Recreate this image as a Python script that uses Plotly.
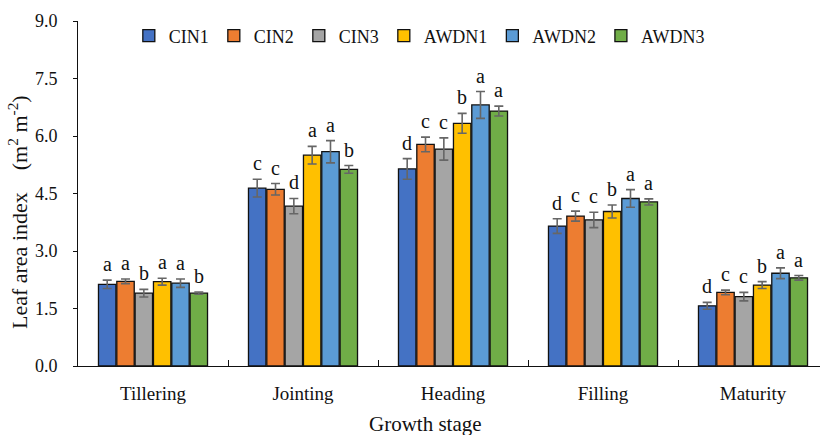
import plotly.graph_objects as go

# Growth stages (categories on the x axis)
stages = ["Tillering", "Jointing", "Heading", "Filling", "Maturity"]

# Leaf area index (m2 m-2) per treatment, with standard errors and significance letters
cin1 = [2.13, 4.64, 5.14, 3.65, 1.57]
cin1_err = [0.11, 0.23, 0.27, 0.19, 0.09]
cin1_sig = ["a", "c", "d", "d", "d"]

cin2 = [2.21, 4.61, 5.78, 3.91, 1.92]
cin2_err = [0.06, 0.15, 0.19, 0.13, 0.06]
cin2_sig = ["a", "c", "c", "c", "c"]

cin3 = [1.90, 4.17, 5.66, 3.81, 1.81]
cin3_err = [0.10, 0.20, 0.29, 0.20, 0.11]
cin3_sig = ["b", "d", "c", "c", "c"]

awdn1 = [2.20, 5.50, 6.33, 4.03, 2.11]
awdn1_err = [0.09, 0.23, 0.26, 0.17, 0.09]
awdn1_sig = ["a", "a", "b", "b", "b"]

awdn2 = [2.16, 5.59, 6.81, 4.37, 2.42]
awdn2_err = [0.11, 0.29, 0.35, 0.23, 0.14]
awdn2_sig = ["a", "a", "a", "a", "a"]

awdn3 = [1.90, 5.13, 6.65, 4.28, 2.30]
awdn3_err = [0.03, 0.10, 0.13, 0.08, 0.06]
awdn3_sig = ["b", "b", "a", "a", "a"]

treatments = ["CIN1", "CIN2", "CIN3", "AWDN1", "AWDN2", "AWDN3"]
values = [cin1, cin2, cin3, awdn1, awdn2, awdn3]
errors = [cin1_err, cin2_err, cin3_err, awdn1_err, awdn2_err, awdn3_err]
letters = [cin1_sig, cin2_sig, cin3_sig, awdn1_sig, awdn2_sig, awdn3_sig]
colors = ["#4472C4", "#ED7D31", "#A5A5A5", "#FFC000", "#5B9BD5", "#70AD47"]

FONT = "Liberation Serif"
INK = "#111111"
x_pos = list(range(len(stages)))

# Grouped bar geometry (in x-axis units)
group_width = 0.733
slot = group_width / len(treatments)
bar_width = slot * 0.95

fig = go.Figure()
annotations = []
for i, (name, vals, errs, sig, col) in enumerate(zip(treatments, values, errors, letters, colors)):
    offset = -group_width / 2 + i * slot + (slot - bar_width) / 2
    fig.add_trace(go.Bar(
        name=name, x=x_pos, y=vals,
        width=bar_width, offset=offset,
        marker=dict(color=col, line=dict(color=INK, width=1.3)),
        error_y=dict(type="data", array=errs, visible=True,
                     color="#666666", thickness=1.6, width=4.5),
    ))
    for xc, v, e, s in zip(x_pos, vals, errs, sig):
        annotations.append(dict(
            x=xc + offset + bar_width / 2, y=v + e, xref="x", yref="y",
            text=s, showarrow=False, xanchor="center", yanchor="bottom", yshift=3,
            font=dict(family=FONT, size=20, color=INK),
        ))

# Axis titles
annotations.append(dict(
    text="Leaf area index\u3000(m<sup>2</sup> m<sup>-2</sup>)",
    xref="paper", yref="paper", x=-0.081, y=0.446, textangle=-90,
    xanchor="center", yanchor="middle",
    showarrow=False, font=dict(family=FONT, size=22, color=INK),
))
annotations.append(dict(
    text="Growth stage", xref="paper", yref="paper", x=0.468, y=-0.168,
    xanchor="center", yanchor="middle",
    showarrow=False, font=dict(family=FONT, size=21, color=INK),
))

fig.update_layout(
    width=820, height=435,
    margin=dict(l=78, r=0, t=21, b=69),
    paper_bgcolor="white", plot_bgcolor="white",
    font=dict(family=FONT, color=INK),
    barmode="overlay",
    showlegend=True,
    legend=dict(orientation="h", x=0.46, xanchor="center", y=0.957, yanchor="middle",
                font=dict(family=FONT, size=18, color=INK),
                bgcolor="rgba(0,0,0,0)", itemwidth=30, traceorder="normal"),
    annotations=annotations,
    xaxis=dict(
        range=[-0.5, -0.5 + 742 / 150], tickmode="array", tickvals=x_pos, ticktext=stages,
        ticks="", showgrid=False, zeroline=False, showline=True, linecolor=INK, linewidth=1,
        tickfont=dict(family=FONT, size=19, color=INK), ticklabelstandoff=10,
        minor=dict(tickmode="array", tickvals=[0.5, 1.5, 2.5, 3.5], ticks="inside",
                   ticklen=6, tickcolor=INK, tickwidth=1, showgrid=False),
    ),
    yaxis=dict(
        range=[0, 9], tickmode="linear", tick0=0, dtick=1.5, tickformat=".1f",
        ticks="outside", ticklen=4, tickcolor=INK, tickwidth=1,
        showgrid=False, zeroline=False, showline=True, linecolor=INK, linewidth=1,
        tickfont=dict(family=FONT, size=18, color=INK), ticklabelstandoff=12,
    ),
)

fig.write_html("out.html")
